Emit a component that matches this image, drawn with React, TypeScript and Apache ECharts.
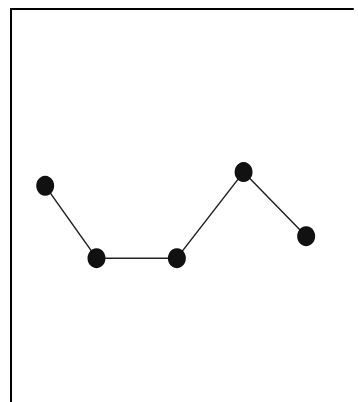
import React, { useEffect, useRef } from "react";
import * as echarts from "echarts";

const xValues = [10, 25, 48.5, 68, 86.3];
const yValues = [55, 36.6, 36.6, 58.5, 42.2];

export default function App() {
  const ref = useRef<HTMLDivElement>(null);
  useEffect(() => {
    document.body.style.margin = "0";
    const chart = echarts.init(ref.current!, null, { renderer: "svg" });
    chart.setOption({
      animation: false,
      backgroundColor: "#ffffff",
      grid: { left: 11, top: 9, right: 5, bottom: 0 },
      xAxis: {
        type: "value",
        position: "top",
        min: 0,
        max: 100,
        axisLine: { show: true, onZero: false, lineStyle: { color: "#000", width: 2 } },
        axisTick: { show: false },
        axisLabel: { show: false },
        splitLine: { show: false },
      },
      yAxis: {
        type: "value",
        min: 0,
        max: 100,
        axisLine: { show: true, onZero: false, lineStyle: { color: "#000", width: 2 } },
        axisTick: { show: false },
        axisLabel: { show: false },
        splitLine: { show: false },
      },
      series: [
        {
          type: "line",
          data: xValues.map((x, i) => [x, yValues[i]]),
          symbol: "circle",
          symbolSize: [18, 20],
          itemStyle: { color: "#111" },
          lineStyle: { color: "#222", width: 1.5 },
        },
      ],
    });
    return () => chart.dispose();
  }, []);
  return <div ref={ref} style={{ width: 358, height: 402, position: "absolute", left: 0, top: 0 }} />;
}
